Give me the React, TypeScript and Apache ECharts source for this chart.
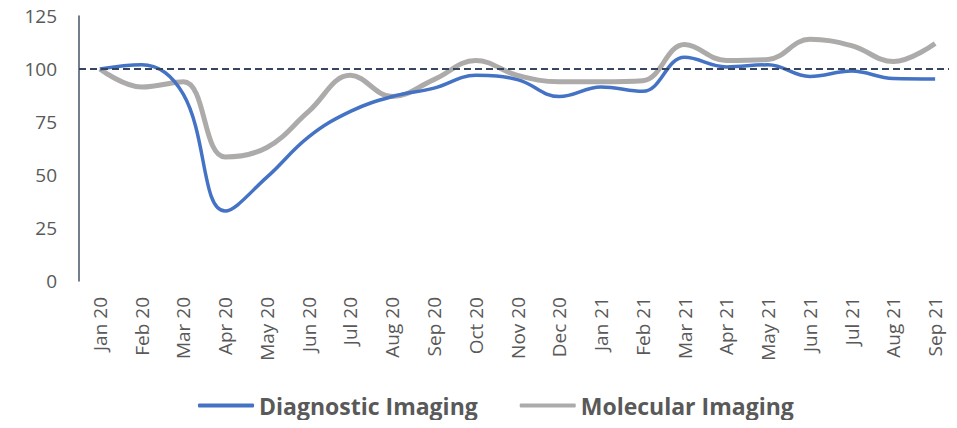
import React, { useEffect, useRef } from "react";
import * as echarts from "echarts";

const months = [
  "Jan 20", "Feb 20", "Mar 20", "Apr 20", "May 20", "Jun 20", "Jul 20",
  "Aug 20", "Sep 20", "Oct 20", "Nov 20", "Dec 20", "Jan 21", "Feb 21",
  "Mar 21", "Apr 21", "May 21", "Jun 21", "Jul 21", "Aug 21", "Sep 21",
];

const diagnosticImaging = [
  100, 102, 88, 33, 49, 68, 80, 87, 91, 97, 95, 87, 91.5, 89.5,
  105.5, 101, 102, 96.5, 99, 95.5, 95.3,
];

const molecularImaging = [
  100, 91.5, 94, 58.5, 63, 80, 97, 87, 95, 104, 97, 94, 94, 94.5,
  111.5, 104, 104.5, 114, 111, 103.5, 112,
];

const yTicks = [0, 25, 50, 75, 100, 125];
const baseline = 100;

export default function App() {
  const ref = useRef<HTMLDivElement>(null);

  useEffect(() => {
    if (!ref.current) return;
    const chart = echarts.init(ref.current, undefined, { renderer: "svg" });
    chart.setOption({
      animation: false,
      backgroundColor: "#ffffff",
      grid: { left: 79, right: 1, top: 16, bottom: 147, containLabel: false },
      legend: {
        left: 193,
        top: 389,
        itemWidth: 56,
        itemHeight: 4,
        itemGap: 42,
        icon: "roundRect",
        textStyle: {
          fontFamily: "Open Sans",
          fontSize: 23,
          fontWeight: "bold",
          color: "#595959",
        },
        data: ["Diagnostic Imaging", "Molecular Imaging"],
      },
      xAxis: {
        type: "category",
        data: months,
        boundaryGap: true,
        axisLine: { show: false },
        axisTick: { show: false },
        axisLabel: {
          rotate: 90,
          margin: 16,
          interval: 0,
          fontFamily: "Open Sans",
          fontSize: 19,
          color: "#595959",
        },
      },
      yAxis: {
        type: "value",
        min: yTicks[0],
        max: yTicks[yTicks.length - 1],
        interval: 25,
        splitLine: { show: false },
        axisTick: { show: false },
        axisLine: { show: true, lineStyle: { color: "#44546A", width: 1.5 } },
        axisLabel: {
          margin: 22,
          fontFamily: "Open Sans",
          fontSize: 19,
          color: "#595959",
        },
      },
      series: [
        {
          name: "Diagnostic Imaging",
          type: "line",
          data: diagnosticImaging,
          smooth: 0.4,
          symbol: "none",
          color: "#4472C4",
          lineStyle: { color: "#4472C4", width: 3.5 },
          z: 3,
          markLine: {
            silent: true,
            symbol: "none",
            label: { show: false },
            lineStyle: { color: "#354560", type: [7, 4], width: 1.8, opacity: 1 },
            data: [{ yAxis: baseline }],
          },
        },
        {
          name: "Molecular Imaging",
          type: "line",
          data: molecularImaging,
          smooth: 0.4,
          symbol: "none",
          color: "#ADAAAA",
          lineStyle: { color: "#ADAAAA", width: 5 },
          z: 2,
        },
      ],
    });
    return () => chart.dispose();
  }, []);

  return <div ref={ref} style={{ width: 957, height: 428, margin: -8 }} />;
}
